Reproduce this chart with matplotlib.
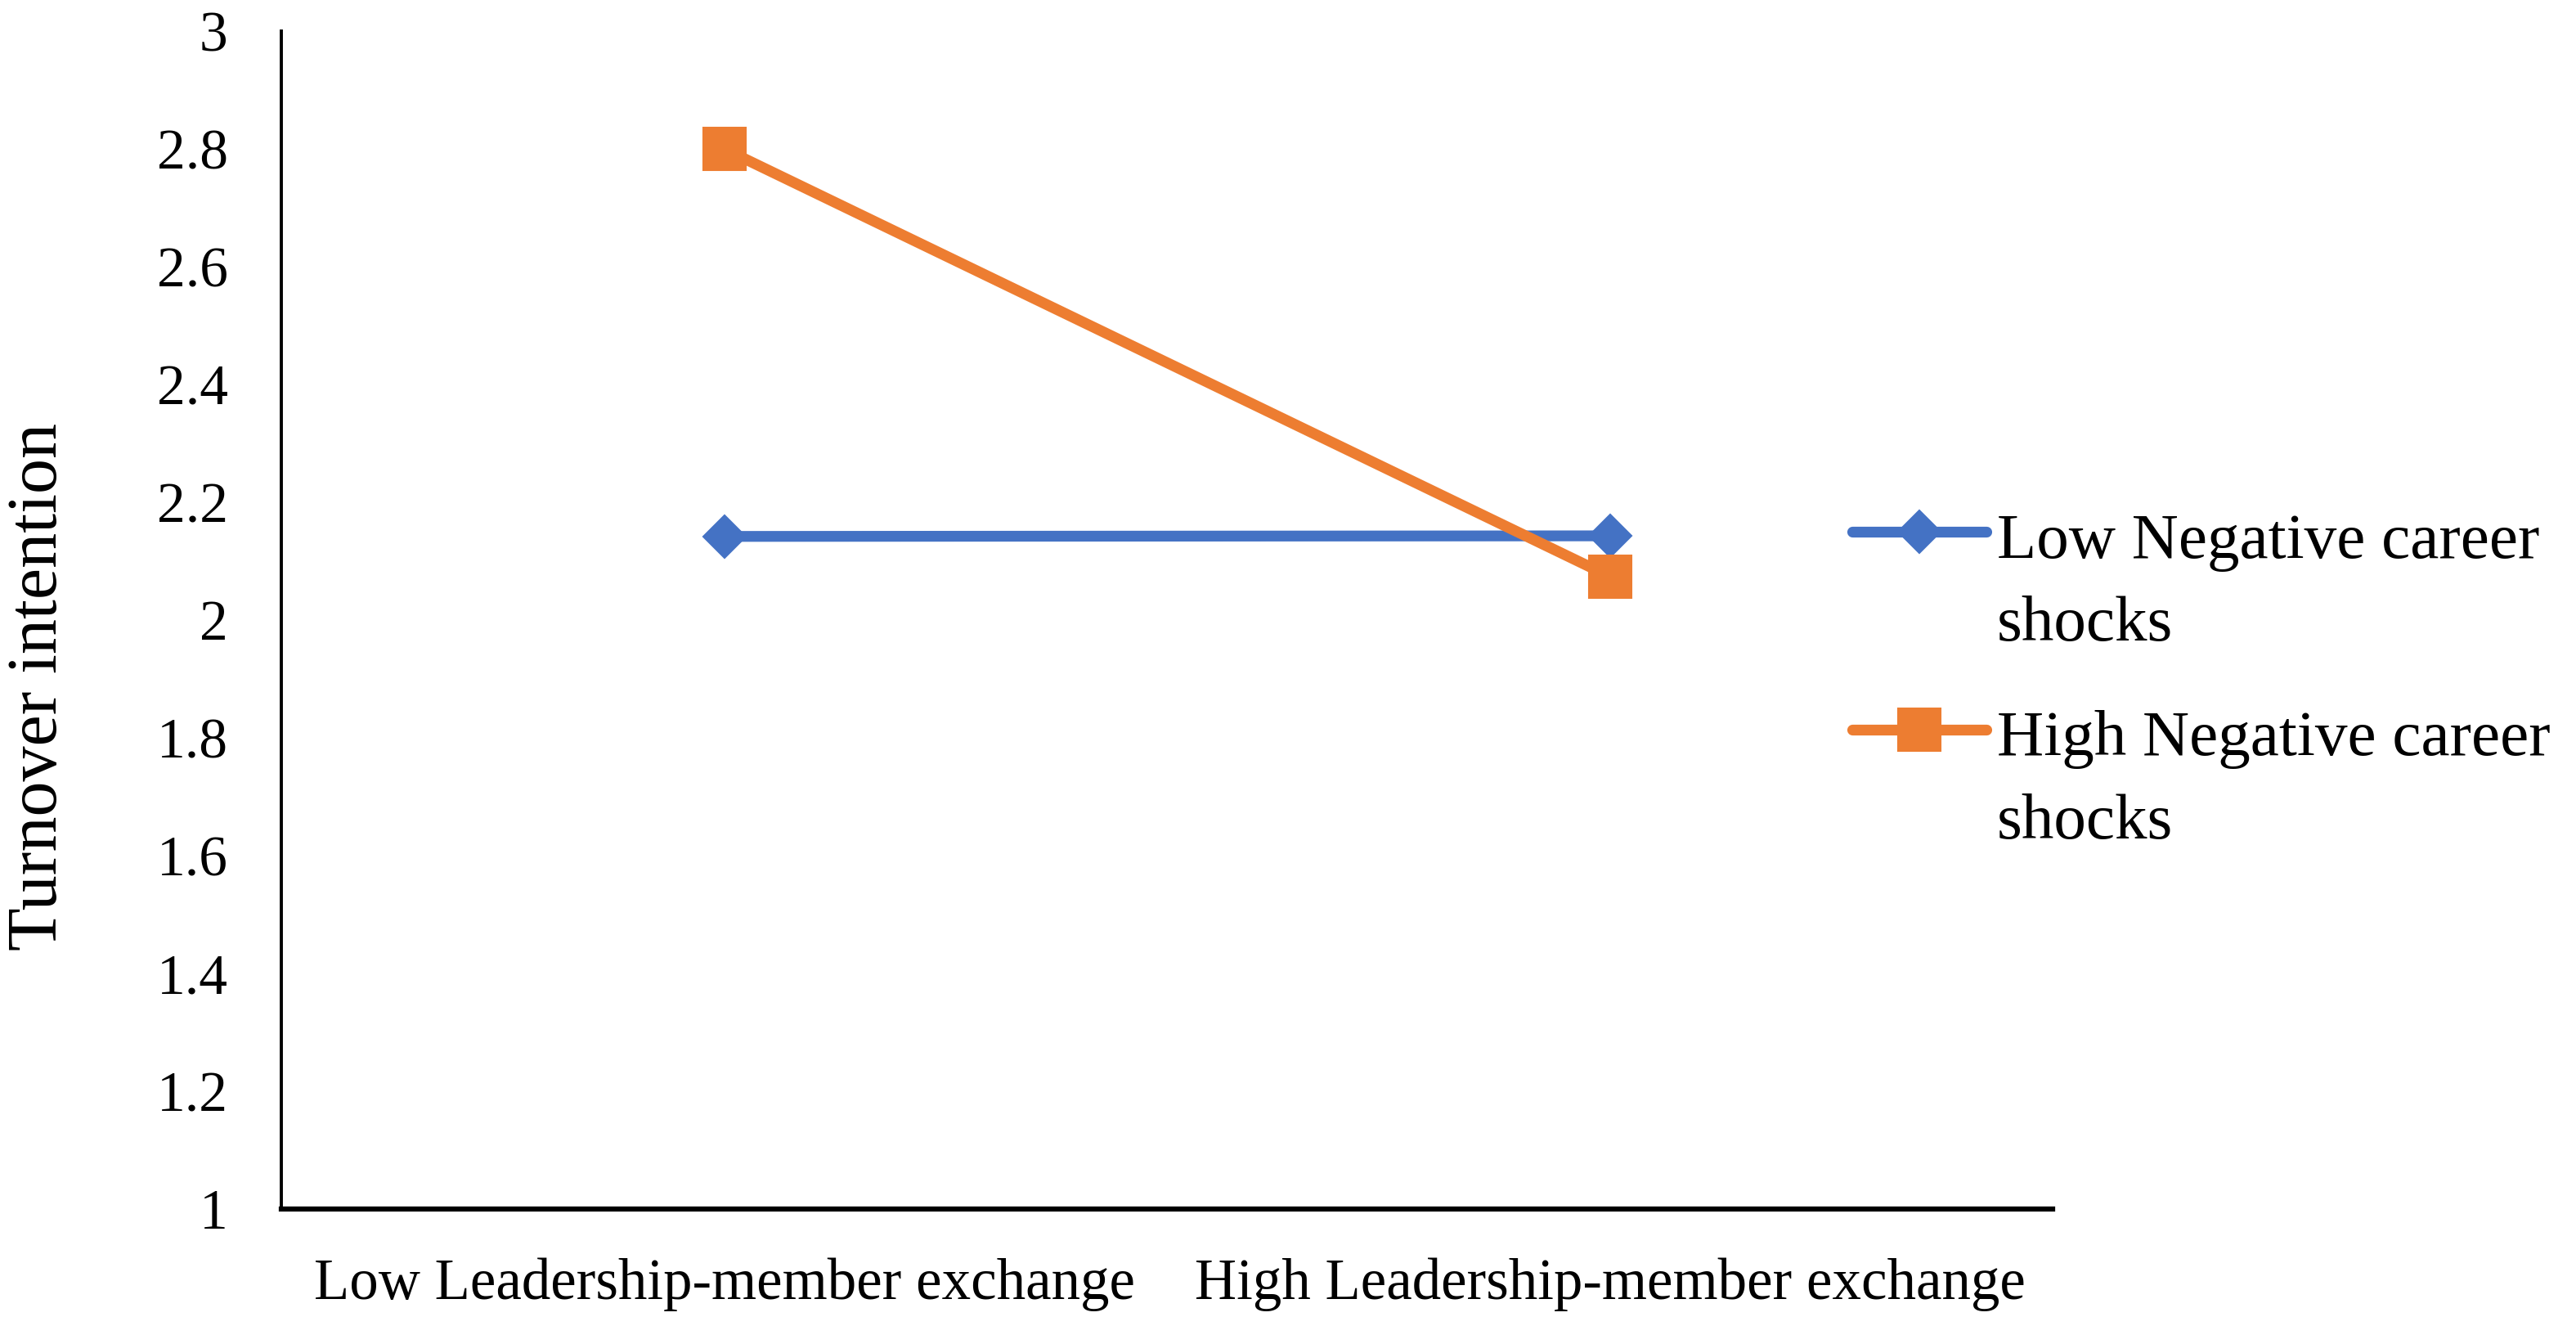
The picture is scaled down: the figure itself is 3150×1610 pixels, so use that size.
import matplotlib
matplotlib.use('Agg')
import matplotlib.pyplot as plt
from matplotlib.lines import Line2D

categories = ["Low Leadership-member exchange", "High Leadership-member exchange"]
series_names = ["Low Negative career\nshocks", "High Negative career\nshocks"]
low_shock = [2.142, 2.143]
high_shock = [2.80, 2.074]
y_ticks = [1.0, 1.2, 1.4, 1.6, 1.8, 2.0, 2.2, 2.4, 2.6, 2.8, 3.0]
y_tick_labels = ["1", "1.2", "1.4", "1.6", "1.8", "2", "2.2", "2.4", "2.6", "2.8", "3"]
y_label = "Turnover intention"

plt.rcParams['font.family'] = ['Liberation Serif', 'DejaVu Serif']

W, H = 3150, 1610
fig = plt.figure(figsize=(W / 100, H / 100), dpi=100)
ax = fig.add_axes([344 / W, 1 - 1478 / H, (2510 - 344) / W, (1478 - 38) / H])

BLUE = '#4472C4'
ORANGE = '#ED7D31'
styles = [
    dict(color=BLUE, marker='D', ms=26),
    dict(color=ORANGE, marker='s', ms=38),
]
series = [low_shock, high_shock]
LW = 9.5

x = list(range(len(categories)))
for vals, st, z in zip(series, styles, [3, 4]):
    ax.plot(x, vals, color=st['color'], lw=LW, marker=st['marker'], ms=st['ms'],
            mec=st['color'], mfc=st['color'], mew=1.5, zorder=z, clip_on=False,
            solid_joinstyle='round')

ax.set_xlim(-0.5, 1.5)
ax.set_ylim(1, 3)
ax.set_xticks(x)
ax.set_xticklabels(categories, fontsize=51)
ax.set_yticks(y_ticks)
ax.set_yticklabels(y_tick_labels, fontsize=50)
ax.tick_params(axis='both', length=0)
ax.tick_params(axis='y', pad=47)
ax.tick_params(axis='x', pad=43)
for s in ['top', 'right']:
    ax.spines[s].set_visible(False)
ax.spines['left'].set_linewidth(2.8)
ax.spines['bottom'].set_linewidth(4.5)

fig.text(48 / W, 1 - 840 / H, y_label, rotation=90, fontsize=62,
         ha='center', va='center')

# Legend (drawn manually so the handle aligns with the first text line)
handle_y = [650, 892]
baselines = [[682, 783], [923, 1025]]
for name, st, hy, bls in zip(series_names, styles, handle_y, baselines):
    fy = 1 - hy / H
    fig.add_artist(Line2D([2265 / W, 2429 / W], [fy, fy], transform=fig.transFigure,
                          color=st['color'], lw=LW, solid_capstyle='round'))
    fig.add_artist(Line2D([2347 / W], [fy], transform=fig.transFigure,
                          color=st['color'], marker=st['marker'], ms=st['ms'],
                          mec=st['color'], mfc=st['color'], mew=1.5, lw=0))
    for line, bl in zip(name.split('\n'), bls):
        fig.text(2442 / W, 1 - bl / H, line, fontsize=57, ha='left', va='baseline')

fig.savefig('out.png', dpi=100, facecolor='white')
